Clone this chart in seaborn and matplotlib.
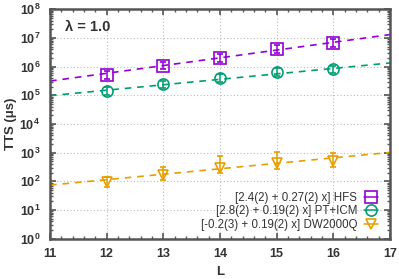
import numpy as np
import pandas as pd
import matplotlib
matplotlib.use("Agg")
import matplotlib.pyplot as plt
import seaborn as sns
from matplotlib.lines import Line2D
from matplotlib.ticker import MultipleLocator, LogLocator, NullFormatter

# Data
L = [12, 13, 14, 15, 16]

hfs = [5.2e5, 1.1e6, 2.0e6, 4.2e6, 6.7e6]
hfs_lo = [3.8e5, 8.0e5, 1.45e6, 3.0e6, 4.9e6]
hfs_hi = [7.2e5, 1.5e6, 2.8e6, 5.8e6, 9.2e6]

pt = [1.4e5, 2.4e5, 4.1e5, 6.6e5, 8.1e5]
pt_lo = [1.05e5, 1.8e5, 3.0e5, 4.9e5, 6.0e5]
pt_hi = [1.9e5, 3.2e5, 5.5e5, 8.9e5, 1.1e6]

dw = [95, 170, 300, 430, 500]
dw_lo = [63, 112, 195, 270, 310]
dw_hi = [145, 330, 740, 1020, 1000]

# fits: log10(TTS) = a + b*L
fit_a = [2.53, 2.90, -0.22]
fit_b = [0.27, 0.19, 0.19]

labels = ["[2.4(2) + 0.27(2) x] HFS",
          "[2.8(2) + 0.19(2) x] PT+ICM",
          "[-0.2(3) + 0.19(2) x] DW2000Q"]
colors = ["#9400D3", "#009E73", "#E69F00"]
markers = ["s", "o", "v"]

sns.set_style("ticks")
plt.rcParams['font.family'] = ['Liberation Sans', 'DejaVu Sans']
txt = "#333333"

fig = plt.figure(figsize=(3.99, 2.79), dpi=100)
ax = fig.add_axes([0.1253, 0.1444, 0.852, 0.822])

series = [(hfs, hfs_lo, hfs_hi), (pt, pt_lo, pt_hi), (dw, dw_lo, dw_hi)]
xfit = np.array([11, 17])
handles = []
for i, (y, lo, hi) in enumerate(series):
    y = np.array(y)
    yerr = [y - np.array(lo), np.array(hi) - y]
    fit_df = pd.DataFrame({"L": xfit, "TTS": 10 ** (fit_a[i] + fit_b[i] * xfit)})
    sns.lineplot(data=fit_df, x="L", y="TTS", ax=ax, color=colors[i], lw=1.2, zorder=2)
    ax.lines[-1].set_dashes((4, 3.5))
    ax.errorbar(L, y, yerr=yerr, fmt=markers[i], mfc="none", mec=colors[i],
                ecolor=colors[i], ms=8 if i < 2 else 7, mew=1.2, elinewidth=1.1,
                capsize=2.5, capthick=1.1, zorder=3)
    handles.append(Line2D([0], [0], color=colors[i], marker=markers[i], mfc="none",
                          mec=colors[i], ms=8 if i < 2 else 7, mew=1.2, lw=1.1))

ax.set_yscale("log")
ax.set_xlim(11, 17)
ax.set_ylim(1, 1e8)
ax.xaxis.set_major_locator(MultipleLocator(1))
ax.xaxis.set_minor_locator(MultipleLocator(0.2))
ax.yaxis.set_major_locator(LogLocator(base=10, numticks=20))
ax.yaxis.set_minor_locator(LogLocator(base=10, subs=np.arange(2, 10), numticks=20))
ax.yaxis.set_minor_formatter(NullFormatter())

ax.grid(True, which="major", ls=(0, (1, 2)), color="#bbbbbb", lw=0.8)
for s in ax.spines.values():
    s.set_color("#555555")
    s.set_linewidth(1.8)
ax.tick_params(which="both", direction="in", top=True, right=True, color="#555555",
               labelcolor=txt, labelsize=9, pad=7)
ax.tick_params(which="major", length=4, width=1.2)
ax.tick_params(which="minor", length=2, width=1.0)
for t in ax.get_xticklabels() + ax.get_yticklabels():
    t.set_fontweight("bold")

ax.set_xlabel("L", fontsize=9.5, color=txt, fontweight="bold", labelpad=4)
ax.set_ylabel("TTS (\u03bcs)", fontsize=9.5, color=txt, fontweight="bold", labelpad=2)
ax.text(0.045, 0.955, "\u03bb = 1.0", transform=ax.transAxes, fontsize=10.5,
        fontweight="bold", color=txt, va="top", ha="left")

leg = ax.legend(handles, labels, loc="lower right", bbox_to_anchor=(0.965, 0.035),
                frameon=False, markerfirst=False, fontsize=8.3, handlelength=1.2,
                handletextpad=0.6, labelspacing=0.12, borderaxespad=0, borderpad=0)
for t in leg.get_texts():
    t.set_color(txt)

fig.savefig("out.png", dpi=100)
